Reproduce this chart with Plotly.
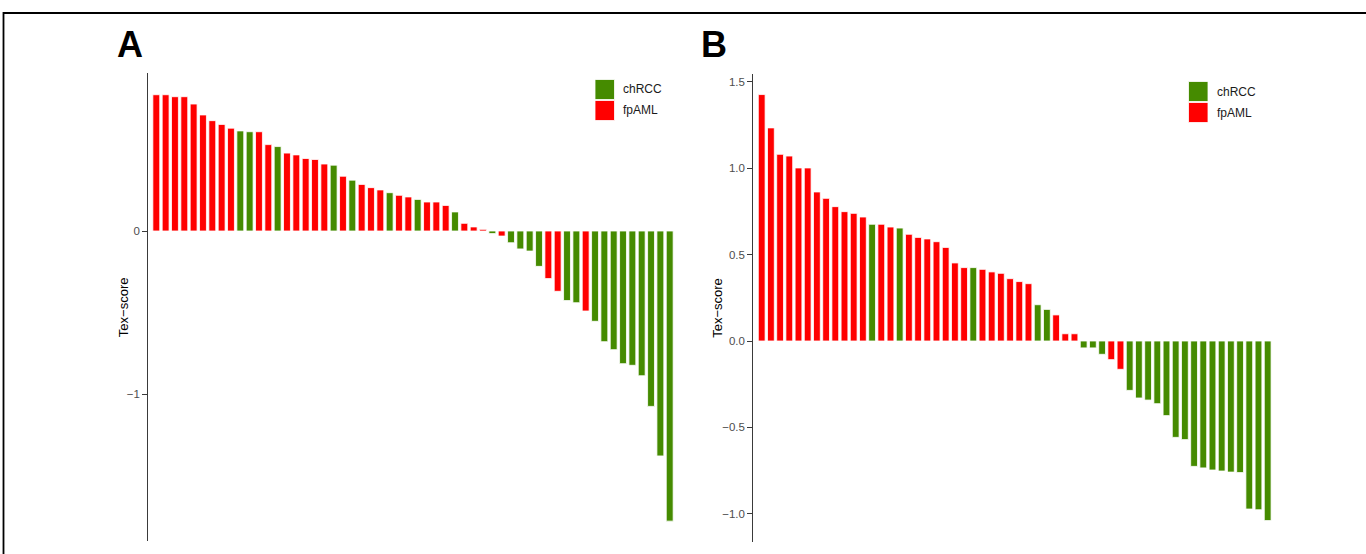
import plotly.graph_objects as go

W, H = 1366, 554

# ---------------- data ----------------
groups = ["chRCC", "fpAML"]
group_colors = {"chRCC": "#458B00", "fpAML": "#FF0000"}

values_A = [0.836, 0.836, 0.824, 0.824, 0.779, 0.712, 0.677, 0.654, 0.631, 0.614,
            0.609, 0.609, 0.530, 0.518, 0.478, 0.467, 0.445, 0.439, 0.411, 0.404,
            0.336, 0.312, 0.286, 0.266, 0.252, 0.235, 0.219, 0.209, 0.194, 0.178,
            0.178, 0.157, 0.117, 0.047, 0.025, 0.010, -0.016, -0.031, -0.072, -0.110,
            -0.123, -0.217, -0.292, -0.370, -0.427, -0.440, -0.491, -0.554, -0.679, -0.728,
            -0.814, -0.824, -0.888, -1.076, -1.380, -1.780]
groups_A = ["fpAML"] * 9 + ["chRCC", "chRCC", "fpAML", "fpAML", "chRCC"] + ["fpAML"] * 5 + \
           ["chRCC", "fpAML", "chRCC", "fpAML", "fpAML", "fpAML", "chRCC", "fpAML", "fpAML",
            "chRCC", "fpAML", "fpAML", "fpAML", "chRCC", "fpAML", "fpAML", "fpAML", "chRCC",
            "fpAML", "chRCC", "chRCC", "chRCC", "chRCC", "fpAML", "fpAML", "chRCC", "chRCC",
            "fpAML"] + ["chRCC"] * 9

values_B = [1.427, 1.234, 1.081, 1.071, 1.002, 1.002, 0.863, 0.826, 0.778, 0.749,
            0.739, 0.718, 0.676, 0.676, 0.660, 0.654, 0.618, 0.600, 0.591, 0.575,
            0.542, 0.452, 0.425, 0.425, 0.415, 0.400, 0.392, 0.361, 0.344, 0.332,
            0.210, 0.183, 0.151, 0.042, 0.042, -0.040, -0.040, -0.077, -0.108, -0.164,
            -0.286, -0.330, -0.342, -0.363, -0.432, -0.558, -0.571, -0.726, -0.735, -0.747,
            -0.753, -0.759, -0.762, -0.973, -0.977, -1.040]
groups_B = ["fpAML"] * 12 + ["chRCC", "fpAML", "fpAML", "chRCC"] + ["fpAML"] * 7 + \
           ["chRCC"] + ["fpAML"] * 6 + ["chRCC", "chRCC", "fpAML", "fpAML", "fpAML",
            "chRCC", "chRCC", "chRCC", "fpAML", "fpAML"] + ["chRCC"] * 16

ticks_A = [0, -1]
ticklabels_A = ["0", "\u22121"]
ticks_B = [1.5, 1.0, 0.5, 0.0, -0.5, -1.0]
ticklabels_B = ["1.5", "1.0", "0.5", "0.0", "\u22120.5", "\u22121.0"]

y_title = "Tex\u2212score"
panel_labels = ["A", "B"]


def fx(x):
    return x / W


def fy(y):
    return 1 - y / H


fig = go.Figure()

fig.add_trace(go.Bar(
    x=list(range(len(values_A))), y=values_A,
    marker=dict(color=[group_colors[g] for g in groups_A], line=dict(color="white", width=0.8)),
    width=0.74, xaxis="x", yaxis="y", showlegend=False,
))
fig.add_trace(go.Bar(
    x=list(range(len(values_B))), y=values_B,
    marker=dict(color=[group_colors[g] for g in groups_B], line=dict(color="white", width=0.8)),
    width=0.74, xaxis="x2", yaxis="y2", showlegend=False,
))

tickfont = dict(family="Liberation Sans, Arial, sans-serif", size=11.5, color="#4D4D4D")
axis_common = dict(showgrid=False, zeroline=False, showline=True, linecolor="#3a3a3a",
                   linewidth=1.2, ticks="outside", ticklen=5, tickcolor="#3a3a3a",
                   tickwidth=1.2, tickfont=tickfont)

# panel geometry (pixels)
A_left, A_right, A_top, A_bot = 148.3, 675.3, 73.3, 541.0
A_zero, A_unit = 231.0, 163.0
B_left, B_right, B_top, B_bot = 753.3, 1273.2, 74.0, 541.7
B_zero, B_unit = 341.0, 172.7

fig.update_layout(
    width=W, height=H,
    margin=dict(l=0, r=0, t=0, b=0),
    paper_bgcolor="white", plot_bgcolor="white",
    barmode="overlay",
    xaxis=dict(domain=[fx(A_left), fx(A_right)], range=[-0.857, 55.6],
               visible=False, fixedrange=True),
    yaxis=dict(domain=[fy(A_bot), fy(A_top)],
               range=[-(A_bot - A_zero) / A_unit, (A_zero - A_top) / A_unit],
               tickvals=ticks_A, ticktext=ticklabels_A, anchor="x", **axis_common),
    xaxis2=dict(domain=[fx(B_left), fx(B_right)], range=[-0.913, 55.6],
                visible=False, fixedrange=True, anchor="y2"),
    yaxis2=dict(domain=[fy(B_bot), fy(B_top)],
                range=[-(B_bot - B_zero) / B_unit, (B_zero - B_top) / B_unit],
                tickvals=ticks_B, ticktext=ticklabels_B, anchor="x2", **axis_common),
)

shapes = [
    # outer frame (top and left edges)
    dict(type="line", xref="paper", yref="paper", x0=fx(3), x1=fx(W + 2), y0=fy(13), y1=fy(13),
         line=dict(color="black", width=2.2)),
    dict(type="line", xref="paper", yref="paper", x0=fx(3.5), x1=fx(3.5), y0=fy(12), y1=fy(H + 2),
         line=dict(color="black", width=1.8)),
]
annotations = []

# legends (one per panel)
for (kx, ky) in [(595, 79.5), (1188.5, 81.5)]:
    for i, g in enumerate(groups):
        y0 = ky + i * 21
        shapes.append(dict(type="rect", xref="paper", yref="paper",
                           x0=fx(kx), x1=fx(kx + 19.5), y0=fy(y0), y1=fy(y0 + 20),
                           fillcolor=group_colors[g], line=dict(color="white", width=0.8)))
        annotations.append(dict(xref="paper", yref="paper", x=fx(kx + 26), y=fy(y0 + 10),
                                text=g, showarrow=False, xanchor="left", yanchor="middle",
                                font=dict(family="Liberation Sans, Arial, sans-serif",
                                          size=12, color="#1a1a1a")))

# y-axis titles
for (tx, A_t, A_b) in [(123, A_top, A_bot), (718, B_top, B_bot)]:
    annotations.append(dict(xref="paper", yref="paper", x=fx(tx), y=fy((A_t + A_b) / 2),
                            text=y_title, textangle=-90, showarrow=False,
                            xanchor="center", yanchor="middle",
                            font=dict(family="Liberation Sans, Arial, sans-serif",
                                      size=13, color="black")))

# panel letters
for lab, lx in zip(panel_labels, [129.5, 714]):
    annotations.append(dict(xref="paper", yref="paper", x=fx(lx), y=fy(44),
                            text="<b>%s</b>" % lab, showarrow=False,
                            xanchor="center", yanchor="middle",
                            font=dict(family="Liberation Sans, Arial, sans-serif",
                                      size=36, color="black")))

fig.update_layout(shapes=shapes, annotations=annotations)

fig.write_html("out.html")
